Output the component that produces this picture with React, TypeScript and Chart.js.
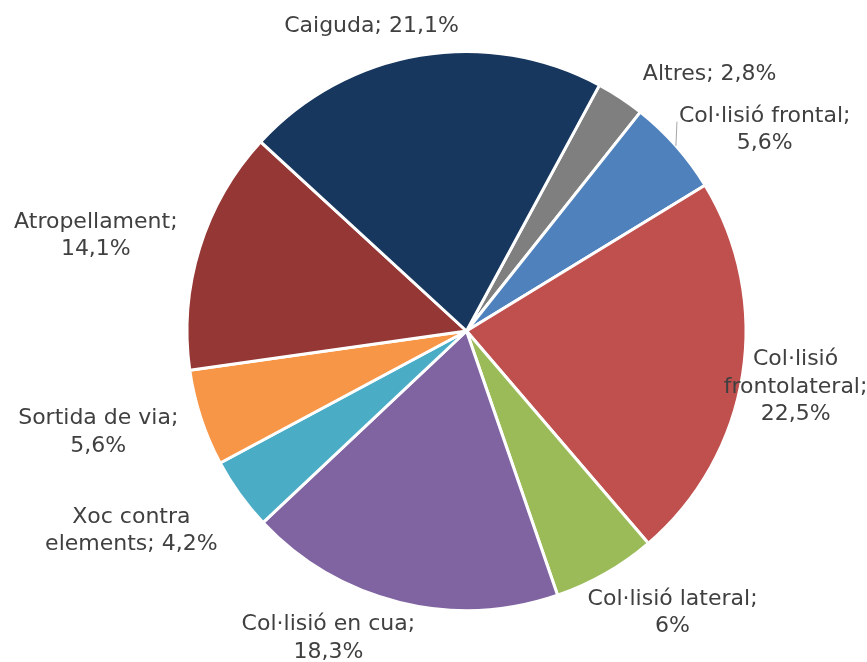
import React, { useEffect, useRef } from "react";
import { Chart, ArcElement, PieController } from "chart.js";

Chart.register(ArcElement, PieController);

// Data (clockwise, starting just right of 12 o'clock)
const categories = [
  "Altres",
  "Col·lisió frontal",
  "Col·lisió\nfrontolateral",
  "Col·lisió lateral",
  "Col·lisió en cua",
  "Xoc contra\nelements",
  "Sortida de via",
  "Atropellament",
  "Caiguda",
];
const values = [2.8, 5.6, 22.5, 6, 18.3, 4.2, 5.6, 14.1, 21.1];
const valueOnNewLine = [false, true, true, true, true, false, true, true, false];
const colors = [
  "#7F7F7F",
  "#4F81BD",
  "#C0504D",
  "#9BBB59",
  "#8064A2",
  "#4BACC6",
  "#F79646",
  "#953735",
  "#17375E",
];
// label placement tweaks (px) relative to an anchor outside each slice
const labelNudge: [number, number][] = [
  [68, 6],
  [60, 7],
  [15, 4],
  [48, 3.5],
  [-62, -4],
  [-77, 12],
  [-66, 0],
  [-67, -3],
  [-42.5, 7],
];
const leaderLine = [false, true, false, false, false, false, false, false, false];

const FONT_SIZE = 22;
const LINE_H = 27.5;

function fmt(v: number) {
  return String(v).replace(".", ",");
}

const labelPlugin = {
  id: "outsideLabels",
  afterDraw(chart: any) {
    const ctx = chart.ctx as CanvasRenderingContext2D;
    const meta = chart.getDatasetMeta(0);
    ctx.save();
    ctx.font = `${FONT_SIZE}px "DejaVu Sans", Verdana, sans-serif`;
    ctx.fillStyle = "#404040";
    ctx.textAlign = "center";
    ctx.textBaseline = "alphabetic";
    meta.data.forEach((arc: any, i: number) => {
      const p = arc.getProps(["x", "y", "startAngle", "endAngle", "outerRadius"], true);
      const mid = (p.startAngle + p.endAngle) / 2;
      const d = p.outerRadius + 38.5;
      const cx = p.x + Math.cos(mid) * d + labelNudge[i][0];
      const cy = p.y + Math.sin(mid) * d + labelNudge[i][1];
      const text =
        categories[i] + ";" + (valueOnNewLine[i] ? "\n" : " ") + fmt(values[i]) + "%";
      const lines = text.split("\n");
      const n = lines.length;
      lines.forEach((ln, k) => {
        const yk = cy + (k - (n - 1) / 2) * LINE_H + FONT_SIZE * 0.729 / 2;
        ctx.fillText(ln, cx, yk);
      });
      if (leaderLine[i]) {
        const w0 = ctx.measureText(lines[0]).width;
        const ex = cx - w0 / 2 - 2;
        const ey = cy - ((n - 1) / 2) * LINE_H + FONT_SIZE * 0.729 / 2;
        const sx = p.x + Math.cos(mid) * p.outerRadius;
        const sy = p.y + Math.sin(mid) * p.outerRadius;
        ctx.beginPath();
        ctx.strokeStyle = "#A6A6A6";
        ctx.lineWidth = 1;
        ctx.moveTo(sx, sy);
        ctx.lineTo(ex, ey);
        ctx.stroke();
      }
    });
    ctx.restore();
  },
};

export default function App() {
  const ref = useRef<HTMLCanvasElement | null>(null);
  useEffect(() => {
    document.body.style.margin = "0";
    const canvas = ref.current;
    if (!canvas) return;
    const chart = new Chart(canvas, {
      type: "pie",
      data: {
        labels: categories.map((c) => c.replace("\n", " ")),
        datasets: [
          {
            data: values,
            backgroundColor: colors,
            borderColor: "#FFFFFF",
            borderWidth: 3,
          },
        ],
      },
      options: {
        animation: false,
        responsive: false,
        devicePixelRatio: 1,
        rotation: 28.4,
        radius: 279.5,
        layout: { padding: { left: 70, right: 4, top: 0, bottom: 0 } },
        plugins: { legend: { display: false }, tooltip: { enabled: false } },
      } as any,
      plugins: [labelPlugin],
    });
    return () => chart.destroy();
  }, []);
  return (
    <div style={{ width: 867, height: 662, background: "#fff" }}>
      <canvas ref={ref} width={867} height={662} style={{ display: "block" }} />
    </div>
  );
}
